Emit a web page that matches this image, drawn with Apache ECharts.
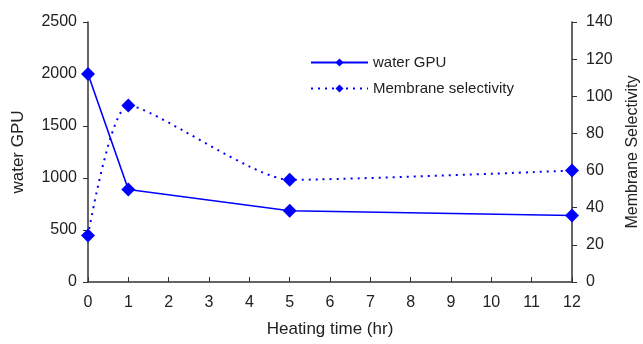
<!DOCTYPE html>
<html>
<head>
<meta charset="utf-8">
<script src="https://cdn.jsdelivr.net/npm/echarts@6/dist/echarts.min.js"></script>
<style>html,body{margin:0;padding:0;background:#fff;}#c{width:643px;height:344px;}</style>
</head>
<body>
<div id="c"></div>
<script>
var hours = [0, 1, 5, 12];
var waterGPU = [2000, 890, 685, 640];
var selectivity = [25, 95, 55, 60];
var xTicks = [0, 12, 1];
var leftTicks = [0, 2500, 500];
var rightTicks = [0, 140, 20];

function pairs(xs, ys) { return xs.map(function (x, i) { return [x, ys[i]]; }); }
function plain(v) { return String(v); }

var font = 'Liberation Sans, Arial, sans-serif';
var txt = '#222';
var axisCol = '#333';
var chart = echarts.init(document.getElementById('c'), null, {renderer: 'canvas'});
chart.setOption({
  animation: false,
  backgroundColor: '#fff',
  grid: {left: 88, right: 71, top: 22, bottom: 62, containLabel: false, outerBoundsMode: 'none'},
  legend: {
    orient: 'vertical', left: 305, top: 50, itemWidth: 57, itemHeight: 10, itemGap: 11,
    textStyle: {fontFamily: font, fontSize: 15, color: txt},
    data: ['water GPU', 'Membrane selectivity']
  },
  xAxis: {
    type: 'value', min: xTicks[0], max: xTicks[1], interval: xTicks[2],
    name: 'Heating time (hr)', nameLocation: 'middle', nameGap: 39,
    nameTextStyle: {fontFamily: font, fontSize: 17, color: txt},
    axisLine: {lineStyle: {color: axisCol, width: 1.5}},
    axisTick: {inside: true, length: 5, lineStyle: {color: axisCol}},
    axisLabel: {fontFamily: font, fontSize: 16, color: txt, margin: 13, formatter: plain},
    splitLine: {show: false}
  },
  yAxis: [{
    type: 'value', min: leftTicks[0], max: leftTicks[1], interval: leftTicks[2], position: 'left',
    name: 'water GPU', nameLocation: 'middle', nameGap: 61,
    nameTextStyle: {fontFamily: font, fontSize: 17, color: txt},
    axisLine: {show: true, lineStyle: {color: axisCol, width: 1.5}},
    axisTick: {show: true, length: 5, lineStyle: {color: axisCol}},
    axisLabel: {fontFamily: font, fontSize: 16, color: txt, margin: 11, formatter: plain},
    splitLine: {show: false}
  }, {
    type: 'value', min: rightTicks[0], max: rightTicks[1], interval: rightTicks[2], position: 'right',
    name: 'Membrane Selectivity', nameLocation: 'middle', nameGap: 53, nameRotate: 90,
    nameTextStyle: {fontFamily: font, fontSize: 16, color: txt},
    axisLine: {show: true, lineStyle: {color: axisCol, width: 1.5}},
    axisTick: {show: true, length: 5, lineStyle: {color: axisCol}},
    axisLabel: {fontFamily: font, fontSize: 16, color: txt, margin: 14, formatter: plain},
    splitLine: {show: false}
  }],
  series: [{
    name: 'water GPU', type: 'line', yAxisIndex: 0,
    data: pairs(hours, waterGPU),
    symbol: 'diamond', symbolSize: 14,
    itemStyle: {color: '#0000ff'},
    lineStyle: {color: '#0000ff', width: 1.6}
  }, {
    name: 'Membrane selectivity', type: 'line', yAxisIndex: 1,
    data: pairs(hours, selectivity),
    symbol: 'diamond', symbolSize: 14, smooth: 0.2,
    itemStyle: {color: '#0000ff'},
    lineStyle: {color: '#0000ff', width: 2, type: [2, 5]}
  }]
});
</script>
</body>
</html>
